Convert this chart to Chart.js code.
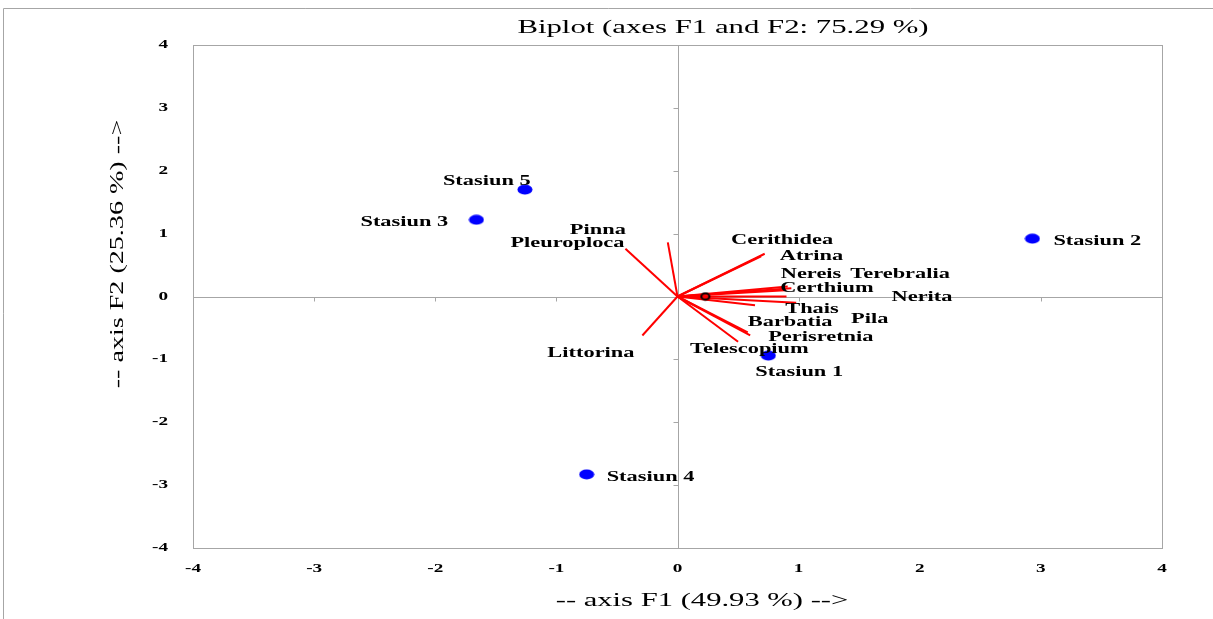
<!DOCTYPE html>
<html><head><meta charset="utf-8">
<script src="https://cdn.jsdelivr.net/npm/chart.js@4/dist/chart.umd.min.js"></script>
<style>html,body{margin:0;padding:0;background:#fff}canvas{display:block}</style>
</head><body>
<canvas id="c" width="1213" height="619"></canvas>
<script>
// ---- data ----
const stationNames = ['Stasiun 1', 'Stasiun 2', 'Stasiun 3', 'Stasiun 4', 'Stasiun 5'];
const stationF1 = [0.75, 2.93, -1.66, -0.75, -1.26];
const stationF2 = [-0.94, 0.92, 1.22, -2.83, 1.70];

const speciesNames = ['Pinna', 'Pleuroploca', 'Littorina', 'Cerithidea', 'Atrina', 'Nereis', 'Terebralia',
  'Certhium', 'Nerita', 'Thais', 'Pila', 'Barbatia', 'Perisretnia', 'Telescopium'];
const speciesF1 = [-0.08, -0.43, -0.29, 0.69, 0.72, 0.91, 0.94, 0.89, 0.90, 0.98, 0.64, 0.58, 0.60, 0.50];
const speciesF2 = [0.86, 0.76, -0.62, 0.64, 0.68, 0.16, 0.13, 0.10, 0.00, -0.10, -0.14, -0.57, -0.62, -0.72];

const centroidF1 = [0.23];
const centroidF2 = [0.00];

const tickValues = [-4, -3, -2, -1, 0, 1, 2, 3, 4];
const tickLabels = ['-4', '-3', '-2', '-1', '0', '1', '2', '3', '4'];

const titleText = 'Biplot (axes F1 and F2: 75.29 %)';
const xTitleText = '-- axis F1 (49.93 %) -->';
const yTitleText = '-- axis F2 (25.36 %) -->';

// ---- layout / style (pixel offsets of labels from their mark, to the label's left edge) ----
const labelOffsets = {
  'Pinna': [-98, -14], 'Pleuroploca': [-115, -7], 'Littorina': [-95, 16], 'Cerithidea': [-30, -18],
  'Atrina': [15, 1], 'Nereis': [-7, -14], 'Terebralia': [59, -16], 'Certhium': [-5, -4],
  'Nerita': [105, -1], 'Thais': [-11, 5], 'Pila': [96, 12], 'Barbatia': [0, -12],
  'Perisretnia': [18, 0], 'Telescopium': [-48, 6],
  'Stasiun 1': [-13, 15], 'Stasiun 2': [21, 1], 'Stasiun 3': [-116, 1], 'Stasiun 4': [20, 1], 'Stasiun 5': [-82, -10]
};
const LABEL_DY = 2;
const SERIF = '"Liberation Serif", "DejaVu Serif", serif';
const STRETCH = 1.6;
const GRAY = '#a6a6a6';

function makeEllipse(w, h, rx, ry, fill, stroke, lw) {
  const cv = document.createElement('canvas');
  cv.width = w; cv.height = h;
  const g = cv.getContext('2d');
  g.beginPath();
  g.ellipse(w / 2, h / 2, rx, ry, 0, 0, Math.PI * 2);
  if (fill) { g.fillStyle = fill; g.fill(); }
  if (stroke) { g.strokeStyle = stroke; g.lineWidth = lw; g.stroke(); }
  return cv;
}
const stationDot = makeEllipse(16, 11, 7.5, 5, '#0000FF');
const centroidDot = makeEllipse(12, 10, 4, 3.2, null, '#000000', 2);

function stretchText(ctx, text, x, y, sx, align, rot) {
  ctx.save();
  ctx.translate(x, y);
  if (rot) ctx.rotate(rot);
  ctx.scale(sx, 1);
  ctx.textAlign = align;
  ctx.textBaseline = 'middle';
  ctx.fillText(text, 0, 0);
  ctx.restore();
}

const datasets = [];
datasets.push({
  label: 'centroid', type: 'scatter',
  data: centroidF1.map((v, i) => ({ x: v, y: centroidF2[i] })),
  pointStyle: centroidDot, pointRadius: 5
});
datasets.push({
  label: 'stations', type: 'scatter',
  data: stationF1.map((v, i) => ({ x: v, y: stationF2[i] })),
  pointStyle: stationDot, pointRadius: 7
});
speciesNames.forEach((n, i) => {
  datasets.push({
    label: n, type: 'scatter', showLine: true,
    data: [{ x: 0, y: 0 }, { x: speciesF1[i], y: speciesF2[i] }],
    borderColor: '#FF0000', borderWidth: 2, pointRadius: 0
  });
});

const decor = {
  id: 'decor',
  beforeDraw(chart) {
    const ctx = chart.ctx;
    ctx.save();
    ctx.fillStyle = '#fff';
    ctx.fillRect(0, 0, chart.width, chart.height);
    ctx.strokeStyle = GRAY;
    ctx.lineWidth = 1;
    ctx.beginPath();
    ctx.moveTo(3.5, chart.height);
    ctx.lineTo(3.5, 8.5);
    ctx.lineTo(chart.width, 8.5);
    ctx.stroke();
    ctx.restore();
  },
  beforeDatasetsDraw(chart) {
    const ctx = chart.ctx, a = chart.chartArea, xs = chart.scales.x, ys = chart.scales.y;
    ctx.save();
    ctx.strokeStyle = GRAY;
    ctx.lineWidth = 1;
    ctx.strokeRect(Math.round(a.left) + 0.5, Math.round(a.top) + 0.5, Math.round(a.right - a.left), Math.round(a.bottom - a.top));
    const x0 = Math.round(xs.getPixelForValue(0)) + 0.5;
    const y0 = Math.round(ys.getPixelForValue(0)) + 0.5;
    ctx.beginPath();
    ctx.moveTo(a.left, y0); ctx.lineTo(a.right, y0);
    ctx.moveTo(x0, a.top); ctx.lineTo(x0, a.bottom);
    tickValues.forEach(v => {
      const px = Math.round(xs.getPixelForValue(v)) + 0.5;
      const py = Math.round(ys.getPixelForValue(v)) + 0.5;
      ctx.moveTo(px, y0); ctx.lineTo(px, y0 + 4);
      ctx.moveTo(x0, py); ctx.lineTo(x0 - 5, py);
    });
    ctx.stroke();
    // tick labels (stretched like the reference)
    ctx.fillStyle = '#000';
    ctx.font = 'bold 12px ' + SERIF;
    tickValues.forEach((v, i) => {
      stretchText(ctx, tickLabels[i], a.left - 25, ys.getPixelForValue(v), STRETCH, 'right');
      stretchText(ctx, tickLabels[i], xs.getPixelForValue(v), a.bottom + 21, STRETCH, 'center');
    });
    ctx.restore();
  },
  afterDatasetsDraw(chart) {
    const ctx = chart.ctx, xs = chart.scales.x, ys = chart.scales.y;
    ctx.save();
    ctx.fillStyle = '#000';
    ctx.font = 'bold 14px ' + SERIF;
    const put = (name, vx, vy) => {
      const o = labelOffsets[name] || [5, 0];
      stretchText(ctx, name, xs.getPixelForValue(vx) + o[0], ys.getPixelForValue(vy) + o[1] + LABEL_DY, STRETCH, 'left');
    };
    speciesNames.forEach((n, i) => put(n, speciesF1[i], speciesF2[i]));
    stationNames.forEach((n, i) => put(n, stationF1[i], stationF2[i]));
    ctx.font = '19px ' + SERIF;
    stretchText(ctx, titleText, 723, 28, 1.62, 'center');
    ctx.font = '18px ' + SERIF;
    stretchText(ctx, xTitleText, 702, 601, 1.7, 'center');
    stretchText(ctx, yTitleText, 118, 254, 1.56, 'center', -Math.PI / 2);
    ctx.restore();
  }
};

new Chart(document.getElementById('c'), {
  type: 'scatter',
  data: { datasets },
  options: {
    responsive: false,
    devicePixelRatio: 1,
    animation: false,
    layout: { padding: { top: 45, right: 51, left: 0, bottom: 0 } },
    plugins: { legend: { display: false }, tooltip: { enabled: false }, title: { display: false } },
    scales: {
      x: {
        type: 'linear', min: -4, max: 4,
        afterFit(s) { s.height = 71; },
        afterBuildTicks(s) { s.ticks = tickValues.map(v => ({ value: v })); },
        ticks: { display: false },
        grid: { display: false, drawTicks: false },
        border: { display: false }
      },
      y: {
        type: 'linear', min: -4, max: 4,
        afterFit(s) { s.width = 193; },
        afterBuildTicks(s) { s.ticks = tickValues.map(v => ({ value: v })); },
        ticks: { display: false },
        grid: { display: false, drawTicks: false },
        border: { display: false }
      }
    }
  },
  plugins: [decor]
});
</script>
</body></html>
